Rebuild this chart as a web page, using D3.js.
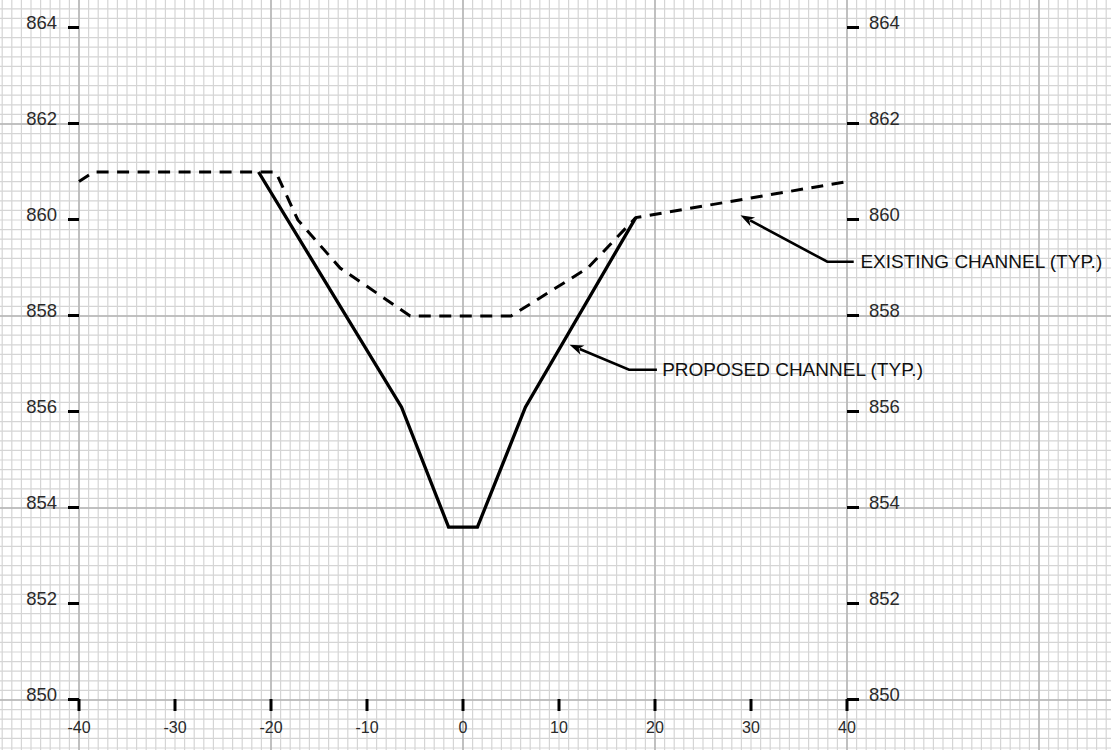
<!DOCTYPE html>
<html>
<head>
<meta charset="utf-8">
<script src="https://cdn.jsdelivr.net/npm/d3@7"></script>
<style>
  html, body { margin: 0; padding: 0; background: #fff; }
  svg { display: block; }
  text { font-family: "Liberation Sans", Arial, Helvetica, sans-serif; }
</style>
</head>
<body>
<div id="chart"></div>
<script>
// ---------- DATA ----------
const xTicks = [-40, -30, -20, -10, 0, 10, 20, 30, 40];
const xTickLabels = ["-40", "-30", "-20", "-10", "0", "10", "20", "30", "40"];
const yTicks = [850, 852, 854, 856, 858, 860, 862, 864];
const yTickLabels = ["850", "852", "854", "856", "858", "860", "862", "864"];

// Proposed channel (solid)
const proposedX = [-21.3, -6.4, -1.5, 1.5, 6.5, 18.0];
const proposedY = [861.0, 856.1, 853.6, 853.6, 856.1, 860.05];

// Existing channel (dashed)
const existingX = [-40, -38.5, -19.5, -17.2, -12.8, -5.5, 5.0, 13.0, 18.0, 40];
const existingY = [860.8, 861.0, 861.0, 860.0, 859.0, 858.0, 858.0, 859.0, 860.05, 860.8];

// Callout labels (tip of arrow, elbow, end of leader, text anchor) in data units
const calloutText = ["EXISTING CHANNEL (TYP.)", "PROPOSED CHANNEL (TYP.)"];
const calloutTipX = [28.9, 11.1];
const calloutTipY = [860.1, 857.4];
const calloutElbowX = [37.95, 17.3];
const calloutElbowY = [859.13, 856.88];
const calloutEndX = [40.7, 20.2];
const calloutTextX = [41.4, 20.75];

// ---------- LAYOUT ----------
const W = 1111, H = 750;
const x = d3.scaleLinear().domain([-40, 40]).range([79, 847]);
const y = d3.scaleLinear().domain([850, 864]).range([700, 28]);

const svg = d3.select("#chart").append("svg")
  .attr("width", W).attr("height", H);

svg.append("rect").attr("width", W).attr("height", H).attr("fill", "#fff");

// ---------- GRID ----------
const xMin = Math.floor(x.invert(0)) - 1, xMax = Math.ceil(x.invert(W)) + 1;
const yMin = Math.floor(y.invert(H)) - 1, yMax = Math.ceil(y.invert(0)) + 1;

const minorX = d3.range(xMin, xMax + 0.001, 1);
const minorY = d3.range(Math.round(yMin * 5), Math.round(yMax * 5) + 1).map(v => v / 5);
const majorX = minorX.filter(v => ((v % 20) + 20) % 20 === 0);
const majorY = minorY.filter(v => {
  const r = ((v - 850) % 4 + 4) % 4;
  return Math.abs(r) < 1e-6 || Math.abs(r - 4) < 1e-6;
});

const grid = svg.append("g");
grid.selectAll(".mx").data(minorX).join("line")
  .attr("x1", d => x(d)).attr("x2", d => x(d))
  .attr("y1", 0).attr("y2", H)
  .attr("stroke", "#d5d5d5").attr("stroke-width", 1.2);
grid.selectAll(".my").data(minorY).join("line")
  .attr("y1", d => y(d)).attr("y2", d => y(d))
  .attr("x1", 0).attr("x2", W)
  .attr("stroke", "#d5d5d5").attr("stroke-width", 1.2);
grid.selectAll(".Mx").data(majorX).join("line")
  .attr("x1", d => x(d)).attr("x2", d => x(d))
  .attr("y1", 0).attr("y2", H)
  .attr("stroke", "#b3b3b3").attr("stroke-width", 1.5);
grid.selectAll(".My").data(majorY).join("line")
  .attr("y1", d => y(d)).attr("y2", d => y(d))
  .attr("x1", 0).attr("x2", W)
  .attr("stroke", "#b3b3b3").attr("stroke-width", 1.5);

// ---------- AXES (ticks + labels) ----------
const tickW = 3;
const axes = svg.append("g");

// left
axes.selectAll(".lt").data(yTicks).join("line")
  .attr("x1", x(-40) - 11).attr("x2", x(-40))
  .attr("y1", d => y(d) - 0.5).attr("y2", d => y(d) - 0.5)
  .attr("stroke", "#000").attr("stroke-width", tickW);
axes.selectAll(".ll").data(yTicks).join("text")
  .attr("x", x(-40) - 22).attr("y", d => y(d) + 1)
  .attr("text-anchor", "end")
  .attr("font-size", 18.5).attr("fill", "#2a2a2a")
  .text((d, i) => yTickLabels[i]);

// right
axes.selectAll(".rt").data(yTicks).join("line")
  .attr("x1", x(40)).attr("x2", x(40) + 12)
  .attr("y1", d => y(d) - 0.5).attr("y2", d => y(d) - 0.5)
  .attr("stroke", "#000").attr("stroke-width", tickW);
axes.selectAll(".rl").data(yTicks).join("text")
  .attr("x", x(40) + 22).attr("y", d => y(d) + 1)
  .attr("text-anchor", "start")
  .attr("font-size", 18.5).attr("fill", "#2a2a2a")
  .text((d, i) => yTickLabels[i]);

// bottom
axes.selectAll(".bt").data(xTicks).join("line")
  .attr("x1", d => x(d)).attr("x2", d => x(d))
  .attr("y1", y(850) - 1).attr("y2", y(850) + 11)
  .attr("stroke", "#000").attr("stroke-width", tickW);
axes.selectAll(".bl").data(xTicks).join("text")
  .attr("x", d => x(d)).attr("y", y(850) + 33)
  .attr("text-anchor", "middle")
  .attr("font-size", 16).attr("fill", "#2a2a2a")
  .text((d, i) => xTickLabels[i]);

// ---------- LINES ----------
const line = d3.line().x(d => x(d[0])).y(d => y(d[1]));

svg.append("path")
  .datum(existingX.map((v, i) => [v, existingY[i]]))
  .attr("d", line)
  .attr("fill", "none").attr("stroke", "#000")
  .attr("stroke-width", 3).attr("stroke-dasharray", "12,8.5")
  .attr("stroke-linejoin", "miter");

svg.append("path")
  .datum(proposedX.map((v, i) => [v, proposedY[i]]))
  .attr("d", line)
  .attr("fill", "none").attr("stroke", "#000")
  .attr("stroke-width", 3.3)
  .attr("stroke-linejoin", "miter");

// ---------- CALLOUTS ----------
const callouts = svg.append("g");
calloutText.forEach((t, i) => {
  const tx = x(calloutTipX[i]), ty = y(calloutTipY[i]);
  const ex = x(calloutElbowX[i]), ey = y(calloutElbowY[i]);
  const hx = x(calloutEndX[i]);
  const ang = Math.atan2(ey - ty, ex - tx);
  const L = 14, Wd = 5;
  const bx = tx + Math.cos(ang) * (L - 3), by = ty + Math.sin(ang) * (L - 3);
  callouts.append("path")
    .attr("d", `M${bx},${by}L${ex},${ey}L${hx},${ey}`)
    .attr("fill", "none").attr("stroke", "#000").attr("stroke-width", 2.6);
  const p1 = [tx + Math.cos(ang) * L - Math.sin(ang) * Wd, ty + Math.sin(ang) * L + Math.cos(ang) * Wd];
  const p2 = [tx + Math.cos(ang) * L + Math.sin(ang) * Wd, ty + Math.sin(ang) * L - Math.cos(ang) * Wd];
  const pn = [tx + Math.cos(ang) * (L - 4), ty + Math.sin(ang) * (L - 4)];
  callouts.append("path")
    .attr("d", `M${tx},${ty}L${p1[0]},${p1[1]}L${pn[0]},${pn[1]}L${p2[0]},${p2[1]}Z`)
    .attr("fill", "#000");
  callouts.append("text")
    .attr("x", x(calloutTextX[i])).attr("y", ey + 6.5)
    .attr("font-size", 19).attr("fill", "#111")
    .text(t);
});
</script>
</body>
</html>
